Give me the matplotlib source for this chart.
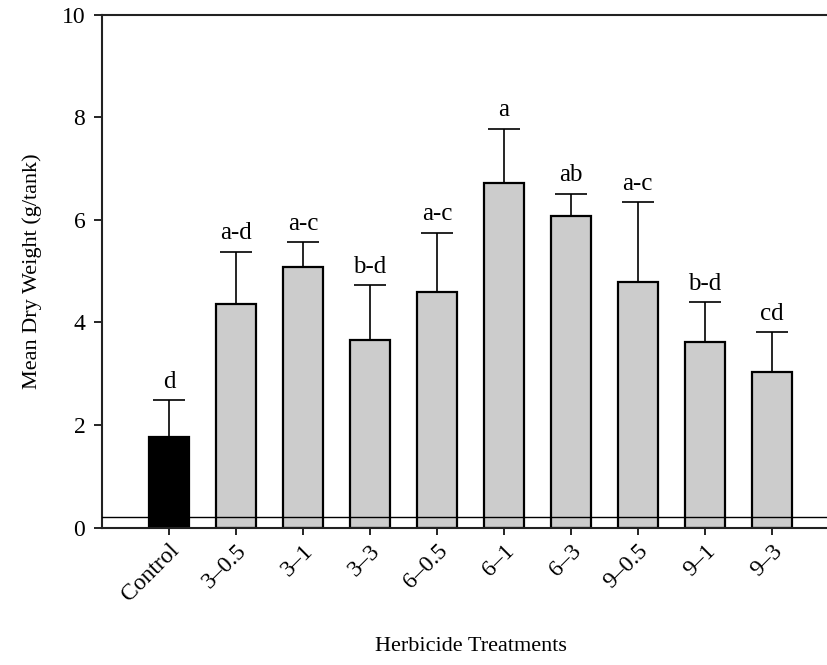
import matplotlib
matplotlib.use('Agg')
import matplotlib.pyplot as plt
import numpy as np

treatments = ['Control', '3\u20130.5', '3\u20131', '3\u20133', '6\u20130.5', '6\u20131',
              '6\u20133', '9\u20130.5', '9\u20131', '9\u20133']
means = [1.77, 4.37, 5.08, 3.66, 4.60, 6.71, 6.08, 4.78, 3.61, 3.04]
upper = [2.48, 5.38, 5.56, 4.73, 5.75, 7.78, 6.51, 6.34, 4.39, 3.81]
letters = ['d', 'a-d', 'a-c', 'b-d', 'a-c', 'a', 'ab', 'a-c', 'b-d', 'cd']
baseline = 0.21

plt.rcParams['font.family'] = ['Liberation Serif', 'DejaVu Serif']

fig = plt.figure(figsize=(8.28, 6.65), dpi=100)
ax = fig.add_axes([0.1232, 0.2065, 0.8768, 0.7714])

x = np.arange(len(treatments))
colors = ['black'] + ['#cccccc'] * (len(treatments) - 1)
err = np.array(upper) - np.array(means)
ax.bar(x, means, width=0.6, color=colors, edgecolor='black', linewidth=1.6, zorder=2)
ax.errorbar(x, means, yerr=[np.zeros(len(err)), err], fmt='none', ecolor='black',
            elinewidth=1.2, capsize=11.5, capthick=1.2, zorder=3)
for xi, top, lab in zip(x, upper, letters):
    ax.annotate(lab, (xi, top), xytext=(0, 9), textcoords='offset points',
                ha='center', va='baseline', fontsize=18)

ax.axhline(baseline, color='black', linewidth=1, zorder=4)

ax.set_xlim(-1, 9.84)
ax.set_ylim(0, 10)
ax.set_yticks([0, 2, 4, 6, 8, 10])
ax.set_xticks(x)
ax.set_xticklabels(treatments, rotation=45, ha='right', rotation_mode='anchor', fontsize=17)
ax.tick_params(axis='y', direction='out', length=6, width=1.2, labelsize=17, pad=6)
ax.tick_params(axis='x', direction='out', length=5, width=1.2, pad=4)

ax.spines['right'].set_visible(False)
for s in ['left', 'bottom', 'top']:
    ax.spines[s].set_linewidth(1.5)
    ax.spines[s].set_color('#222222')

ax.set_ylabel('Mean Dry Weight (g/tank)', fontsize=16)
ax.yaxis.set_label_coords(-0.083, 0.5)
ax.set_xlabel('Herbicide Treatments', fontsize=16)
ax.xaxis.set_label_coords(0.508, -0.213)

fig.savefig('out.png', dpi=100)
